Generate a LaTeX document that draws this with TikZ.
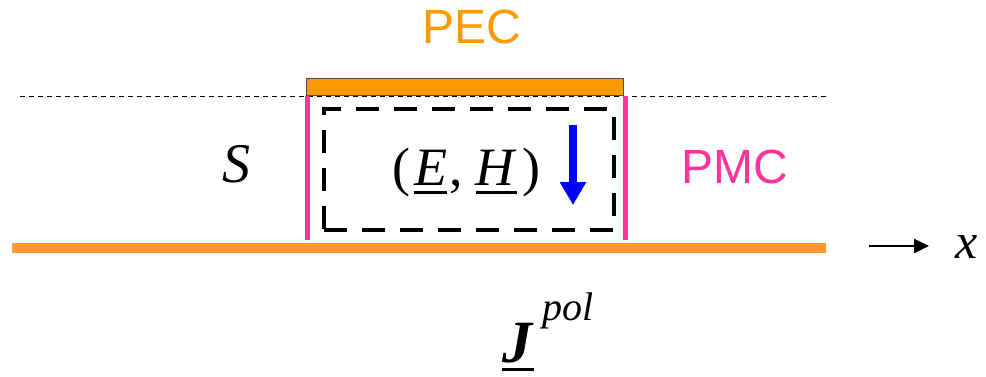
\documentclass[tikz,border=0pt]{standalone}
\usepackage{fontspec}
\setmainfont{Liberation Serif}
\newfontfamily\lsans{Liberation Sans}
\usetikzlibrary{arrows.meta}
\definecolor{pecor}{HTML}{FF9900}
\definecolor{gndor}{HTML}{FF9933}
\definecolor{pmcpink}{HTML}{FF3399}
\newcommand\myul[1]{\setbox0\hbox{#1}\rlap{\rule[-9pt]{\wd0}{3pt}}\box0}
\begin{document}
\begin{tikzpicture}[x=1pt,y=-1pt,
  lbl/.style={inner sep=0pt,anchor=base west},
  sanslbl/.style={lbl,font=\lsans\fontsize{48}{50}\selectfont},
  seriflbl/.style={lbl,font=\fontsize{50}{52}\selectfont},
  wall/.style={pmcpink,line width=5pt},
  box/.style={line width=4pt,dash pattern=on 23pt off 15pt},
]
\useasboundingbox (0,0) rectangle (986,376);
% horizontal dashed thin line
\coordinate (dl) at (20,96);
\coordinate (dr) at (826,96);
\draw[line width=1pt,dash pattern=on 5pt off 4pt] (dl) -- (dr);
% PEC plate
\node[draw=black!70,line width=0.8pt,fill=pecor,minimum width=317pt,minimum height=17pt,inner sep=0pt,anchor=south west] (pec) at (306,96) {};
% PMC walls
\coordinate (wl1) at (307,96); \coordinate (wl2) at (307,240);
\coordinate (wr1) at (625,96); \coordinate (wr2) at (625,240);
\draw[wall] (wl1) -- (wl2);
\draw[wall] (wr1) -- (wr2);
% ground line
\coordinate (g1) at (12,248); \coordinate (g2) at (826,248);
\draw[gndor,line width=10pt] (g1) -- (g2);
% dashed box
\node[draw,box,minimum width=290pt,minimum height=121pt,inner sep=0pt,anchor=north west] (vol) at (322,107) {};
% blue arrow
\coordinate (ba1) at (573,125); \coordinate (ba2) at (573,205);
\draw[blue,line width=8pt,-{Triangle[length=23pt,width=25pt]}] (ba1) -- (ba2);
% x-axis arrow
\coordinate (xa1) at (869,246); \coordinate (xa2) at (929,246);
\draw[line width=2.5pt,-{Triangle[length=15pt,width=14pt]}] (xa1) -- (xa2);
% labels
\node[sanslbl,text=pecor] (peclbl) at (422,43) {PEC};
\node[sanslbl,text=pmcpink] (pmclbl) at (681,183) {PMC};
\node[seriflbl,font=\fontsize{56}{58}\selectfont] (slbl) at (222,182) {\textit{S}};
\node[seriflbl,font=\fontsize{54}{56}\selectfont] (eh) at (392,185) {(\hspace{4pt}\myul{\textit{E}}\hspace{2pt},\hspace{13pt}\myul{\textit{H}}\hspace{5pt})};
\node[seriflbl] (xlbl) at (955,258) {\textit{x}};
\node[lbl,font=\fontsize{60}{62}\selectfont] (jlbl) at (502,362) {\myul{\textbf{\textit{J}}}};
\node[lbl,font=\fontsize{40}{42}\selectfont] (pol) at (542,320) {\textit{pol}};
\end{tikzpicture}
\end{document}
